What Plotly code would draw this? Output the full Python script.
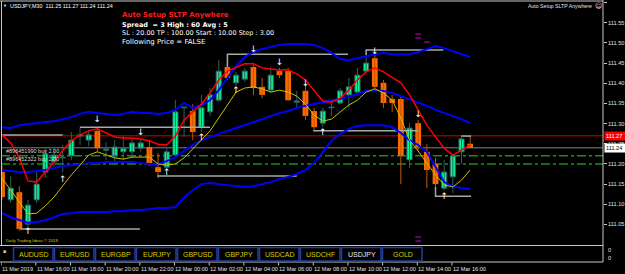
import plotly.graph_objects as go

# ---------------- data ----------------
symbol = "USDJPY,M30"
open_ = [111.180, 111.111, 111.130, 111.051, 111.111, 111.180, 111.205, 111.215, 111.220, 111.269,
         111.259, 111.282, 111.234, 111.220, 111.230, 111.230, 111.239, 111.242, 111.192, 111.192,
         111.222, 111.339, 111.331, 111.291, 111.329, 111.358, 111.440, 111.401, 111.410, 111.440,
         111.391, 111.383, 111.430, 111.430, 111.353, 111.381, 111.331, 111.301, 111.339, 111.351,
         111.371, 111.378, 111.430, 111.462, 111.401, 111.361, 111.361, 111.210, 111.301, 111.230,
         111.200, 111.140, 111.168, 111.230, 111.250]
high_ = [111.195, 111.170, 111.145, 111.111, 111.180, 111.239, 111.239, 111.247, 111.279, 111.291,
         111.284, 111.291, 111.254, 111.259, 111.269, 111.264, 111.264, 111.259, 111.227, 111.239,
         111.358, 111.341, 111.348, 111.371, 111.388, 111.457, 111.465, 111.428, 111.438, 111.445,
         111.413, 111.440, 111.438, 111.438, 111.381, 111.396, 111.339, 111.339, 111.358, 111.388,
         111.413, 111.438, 111.475, 111.470, 111.408, 111.371, 111.368, 111.301, 111.309, 111.249,
         111.215, 111.210, 111.222, 111.272, 111.270]
low_ = [111.111, 111.103, 111.034, 111.044, 111.103, 111.165, 111.195, 111.180, 111.210, 111.247,
        111.244, 111.230, 111.210, 111.205, 111.210, 111.215, 111.230, 111.195, 111.165, 111.185,
        111.217, 111.267, 111.259, 111.279, 111.319, 111.353, 111.408, 111.393, 111.403, 111.371,
        111.363, 111.376, 111.413, 111.356, 111.341, 111.309, 111.282, 111.291, 111.319, 111.348,
        111.339, 111.373, 111.428, 111.383, 111.339, 111.329, 111.150, 111.190, 111.234, 111.140,
        111.120, 111.135, 111.128, 111.200, 111.240]
close_ = [111.118, 111.140, 111.039, 111.098, 111.150, 111.225, 111.222, 111.217, 111.259, 111.272,
          111.272, 111.239, 111.237, 111.242, 111.239, 111.252, 111.252, 111.202, 111.180, 111.230,
          111.329, 111.341, 111.279, 111.339, 111.371, 111.430, 111.413, 111.420, 111.430, 111.388,
          111.371, 111.420, 111.420, 111.358, 111.356, 111.319, 111.291, 111.331, 111.341, 111.381,
          111.391, 111.420, 111.450, 111.391, 111.351, 111.351, 111.220, 111.289, 111.242, 111.185,
          111.150, 111.180, 111.220, 111.262, 111.240]

bb_upper = [111.291, 111.289, 111.296, 111.299, 111.301, 111.304, 111.306, 111.311, 111.316, 111.324,
            111.329, 111.326, 111.324, 111.321, 111.324, 111.329, 111.326, 111.326, 111.324, 111.326,
            111.334, 111.351, 111.339, 111.346, 111.358, 111.383, 111.413, 111.443, 111.465, 111.477,
            111.485, 111.490, 111.495, 111.497, 111.497, 111.497, 111.495, 111.487, 111.475, 111.460,
            111.457, 111.462, 111.467, 111.472, 111.475, 111.472, 111.472, 111.472, 111.477, 111.485,
            111.492, 111.487, 111.480, 111.472, 111.465]
bb_middle = [111.185, 111.182, 111.180, 111.180, 111.182, 111.185, 111.190, 111.195, 111.197, 111.200,
             111.202, 111.202, 111.205, 111.205, 111.205, 111.205, 111.202, 111.200, 111.200, 111.207,
             111.217, 111.232, 111.247, 111.259, 111.267, 111.274, 111.282, 111.289, 111.296, 111.304,
             111.311, 111.319, 111.326, 111.331, 111.339, 111.344, 111.348, 111.353, 111.358, 111.361,
             111.366, 111.373, 111.381, 111.383, 111.381, 111.376, 111.368, 111.361, 111.353, 111.344,
             111.334, 111.326, 111.319, 111.311, 111.301]
bb_lower = [111.078, 111.068, 111.061, 111.054, 111.056, 111.061, 111.068, 111.076, 111.078, 111.081,
            111.081, 111.081, 111.081, 111.083, 111.083, 111.086, 111.086, 111.088, 111.091, 111.091,
            111.093, 111.116, 111.135, 111.150, 111.153, 111.150, 111.148, 111.145, 111.143, 111.145,
            111.150, 111.155, 111.163, 111.168, 111.175, 111.185, 111.202, 111.230, 111.257, 111.274,
            111.287, 111.294, 111.296, 111.296, 111.296, 111.291, 111.277, 111.259, 111.247, 111.230,
            111.192, 111.155, 111.145, 111.140, 111.138]
ma_red = [111.272, 111.252, 111.215, 111.158, 111.155, 111.180, 111.205, 111.234, 111.257, 111.272,
          111.282, 111.287, 111.277, 111.267, 111.264, 111.264, 111.262, 111.257, 111.249, 111.247,
          111.269, 111.309, 111.329, 111.348, 111.376, 111.408, 111.430, 111.440, 111.448, 111.448,
          111.438, 111.435, 111.433, 111.433, 111.423, 111.408, 111.383, 111.356, 111.353, 111.363,
          111.383, 111.408, 111.428, 111.438, 111.428, 111.415, 111.401, 111.371, 111.334, 111.296,
          111.267, 111.239, 111.222, 111.234, 111.247]
ma_yellow = [111.165, 111.135, 111.103, 111.076, 111.078, 111.096, 111.118, 111.145, 111.173, 111.197,
             111.222, 111.230, 111.222, 111.215, 111.212, 111.217, 111.217, 111.217, 111.200, 111.197,
             111.200, 111.215, 111.237, 111.259, 111.282, 111.314, 111.346, 111.378, 111.388, 111.391,
             111.386, 111.378, 111.383, 111.378, 111.368, 111.348, 111.321, 111.306, 111.311, 111.329,
             111.346, 111.358, 111.378, 111.386, 111.376, 111.358, 111.314, 111.259, 111.232, 111.202,
             111.173, 111.148, 111.143, 111.160, 111.185]

fractal_up_bars = [3, 7, 19, 23, 27, 37, 51]
fractal_up_price = [111.031, 111.160, 111.178, 111.264, 111.381, 111.277, 111.118]
fractal_dn_bars = [11, 16, 29, 32, 35, 43, 48]
fractal_dn_price = [111.309, 111.277, 111.482, 111.450, 111.398, 111.477, 111.321]

# (bar_from, bar_to, level price, price at start of the connector)
level_segments = [
    (-0.2, 7.0, 111.272, 111.272),
    (9.0, 24.0, 111.291, 111.291),
    (17.9, 34.0, 111.170, 111.170),
    (26.0, 39.9, 111.472, 111.440),
    (42.0, 50.9, 111.482, 111.470),
    (35.9, 48.0, 111.282, 111.282),
    (50.0, 54.1, 111.120, 111.143),
    (53.0, 54.1, 111.269, 111.269),
    (2.1, 15.9, 111.039, 111.039),
]
purple_bars = [48, 48, 49, 48, 48]
purple_price = [111.522, 111.512, 111.502, 111.019, 111.009]

ask_price = 111.27
bid_price = close_[-1]
order_ids = ["#896451990", "#896452322"]
order_types = ["buy", "buy"]
order_lots = [2.00, 2.00]
order_prices = [111.220, 111.200]

time_label_bars = [0, 4, 8, 12, 16, 20, 24, 28, 32, 36, 40, 44, 48, 52]
time_labels = ["11 Mar 2019", "11 Mar 16:00", "11 Mar 18:00", "11 Mar 20:00", "11 Mar 22:00",
               "12 Mar 00:00", "12 Mar 02:00", "12 Mar 04:00", "12 Mar 06:00", "12 Mar 08:00",
               "12 Mar 10:00", "12 Mar 12:00", "12 Mar 14:00", "12 Mar 16:00"]
price_ticks = [111.05, 111.10, 111.15, 111.20, 111.25, 111.30, 111.35, 111.40, 111.45, 111.50,
               111.55, 111.60]
buttons = ["AUDUSD", "EURUSD", "EURGBP", "EURJPY", "GBPUSD", "GBPJPY", "USDCAD", "USDCHF",
           "USDJPY", "GOLD"]
active_button = "USDJPY"
spread, spread_high, spread_avg = 3, 60, 5
sl_pts, tp_pts, start_pts, step_pts = 20.00, 100.00, 10.00, 3.00
following_price = "FALSE"
ea_name = "Auto Setup SLTP Anywhere"
copyright_txt = "Daily Trading Ideas \u00a9 2019"

# ---------------- layout constants ----------------
W, H = 625, 274
PL, PR, PT, PB = 1, 603, 1, 245
SUB_BOT = 262
BAR0_X, BAR_DX = 2.0, 8.67
REF_P, REF_Y, PX_PER = 111.60, 2.5, 403.6

n = len(open_)
x_range = [(PL - BAR0_X) / BAR_DX, (PR - BAR0_X) / BAR_DX]
y_range = [REF_P - (PB - REF_Y) / PX_PER, REF_P - (PT - REF_Y) / PX_PER]


def xp(X):
    return (X - PL) / (PR - PL)


def yp(Y):
    return (PB - Y) / (PB - PT)


BULL, BULL_EDGE = "#00FA9A", "#2F5F5A"
BEAR, BEAR_WICK = "#FF6A00", "#C05800"
FONT = "Liberation Sans"

fig = go.Figure()

# wicks
bull = [i for i in range(n) if close_[i] >= open_[i]]
bear = [i for i in range(n) if close_[i] < open_[i]]


def wick(idx):
    xs, ys = [], []
    for i in idx:
        xs += [i, i, None]
        ys += [low_[i], high_[i], None]
    return xs, ys


for idx, col in ((bull, BULL_EDGE), (bear, BEAR_WICK)):
    wx, wy = wick(idx)
    fig.add_trace(go.Scatter(x=wx, y=wy, mode="lines", line=dict(color=col, width=1),
                             hoverinfo="skip"))

# bodies
fig.add_trace(go.Bar(x=bull, base=[open_[i] for i in bull],
                     y=[max(close_[i] - open_[i], 0.0008) for i in bull], width=0.6,
                     marker=dict(color=BULL, line=dict(color=BULL_EDGE, width=1)),
                     hoverinfo="skip"))
fig.add_trace(go.Bar(x=bear, base=[close_[i] for i in bear],
                     y=[open_[i] - close_[i] for i in bear], width=0.66,
                     marker=dict(color=BEAR, line=dict(width=0)), hoverinfo="skip"))

# level segments
sx, sy = [], []
for b0, b1, lvl, pfrom in level_segments:
    sx += [b0, b0, b1, None]
    sy += [pfrom, lvl, lvl, None]
fig.add_trace(go.Scatter(x=sx, y=sy, mode="lines", line=dict(color="#A8A8A8", width=1.5),
                         hoverinfo="skip"))

xs = list(range(n))
for arr, col, w in ((bb_upper, "#0000FF", 2), (bb_middle, "#0000FF", 2), (bb_lower, "#0000FF", 2),
                    (ma_yellow, "#C8C400", 1), (ma_red, "#FF0000", 1.5)):
    fig.add_trace(go.Scatter(x=xs, y=arr, mode="lines", line=dict(color=col, width=w),
                             hoverinfo="skip"))

# fractal arrows
fig.add_trace(go.Scatter(x=fractal_up_bars, y=fractal_up_price, mode="text", text=["\u2191"] * len(fractal_up_bars),
                         textfont=dict(color="white", size=9, family="DejaVu Sans"),
                         cliponaxis=False, hoverinfo="skip"))
fig.add_trace(go.Scatter(x=fractal_dn_bars, y=fractal_dn_price, mode="text", text=["\u2193"] * len(fractal_dn_bars),
                         textfont=dict(color="white", size=9, family="DejaVu Sans"),
                         cliponaxis=False, hoverinfo="skip"))
fig.add_trace(go.Scatter(x=purple_bars, y=purple_price, mode="markers",
                         marker=dict(symbol="line-ew", size=4, line=dict(color="#8B008B", width=1.5)),
                         cliponaxis=False, hoverinfo="skip"))

shapes = []
# order lines, bid, ask
for p in order_prices:
    shapes.append(dict(type="line", xref="paper", yref="y", x0=0, x1=1, y0=p, y1=p, layer="below",
                       line=dict(color="#1E8C1E", width=1.5, dash="dashdot")))
shapes.append(dict(type="line", xref="paper", yref="y", x0=0, x1=1, y0=ask_price, y1=ask_price,
                   layer="below", line=dict(color="#8B0000", width=1.5)))
shapes.append(dict(type="line", xref="paper", yref="y", x0=0, x1=1, y0=bid_price, y1=bid_price,
                   layer="below", line=dict(color="#808080", width=1)))

FRAME = "#C8C8C8"
# frame
shapes += [
    dict(type="line", xref="paper", yref="paper", x0=xp(0), x1=xp(PR), y0=yp(1), y1=yp(1),
         line=dict(color=FRAME, width=1)),
    dict(type="line", xref="paper", yref="paper", x0=xp(1.5), x1=xp(1.5), y0=yp(1), y1=yp(PB),
         line=dict(color=FRAME, width=1)),
    dict(type="line", xref="paper", yref="paper", x0=xp(0), x1=xp(PR), y0=yp(PB + 0.5), y1=yp(PB + 0.5),
         line=dict(color=FRAME, width=1)),
    dict(type="line", xref="paper", yref="paper", x0=xp(0), x1=xp(PR), y0=yp(SUB_BOT), y1=yp(SUB_BOT),
         line=dict(color=FRAME, width=1)),
    dict(type="line", xref="paper", yref="paper", x0=xp(PR), x1=xp(PR), y0=yp(0), y1=yp(SUB_BOT),
         line=dict(color=FRAME, width=1)),
]
# time axis tick marks
for b in time_label_bars:
    shapes.append(dict(type="line", xref="x", yref="paper", x0=b - 0.1, x1=b - 0.1,
                       y0=yp(SUB_BOT + 0.5), y1=yp(SUB_BOT + 3.5), line=dict(color=FRAME, width=1)))
# buttons
for k, name in enumerate(buttons):
    x0 = 13 + 41 * k
    shapes.append(dict(type="rect", xref="paper", yref="paper", x0=xp(x0 + 0.5), x1=xp(x0 + 40),
                       y0=yp(261), y1=yp(247.5), fillcolor="black",
                       line=dict(color="#223E9A", width=1.5)))


def ann(text, X, Y, size, color, xanchor="left", family=FONT, **kw):
    return dict(text=text, xref="paper", yref="paper", x=xp(X), y=yp(Y), xanchor=xanchor,
                yanchor="middle", showarrow=False, font=dict(size=size, color=color, family=family),
                borderpad=0, **kw)


anns = []
anns.append(ann("\u25bc", 2, 6, 4, "white"))
anns.append(ann(f"{symbol}\u00a0 {open_[-1]:.2f} {high_[-1]:.2f} {low_[-1]:.2f} {close_[-1]:.2f}",
                9, 6, 5.4, "white"))
anns.append(ann(f"<b>{ea_name}</b>", 121, 15, 7, "#FF1A1A", family="DejaVu Sans"))
anns.append(ann(f"<b>Spread \u00a0= {spread} High : {spread_high} Avg : {spread_avg}</b>",
                121, 25, 6.5, "white", family="DejaVu Sans"))
anns.append(ann(f"SL : {sl_pts:.2f} TP : {tp_pts:.2f} Start : {start_pts:.2f} Step : {step_pts:.2f}",
                121, 33, 6.5, "white", family="DejaVu Sans"))
anns.append(ann(f"Following Price = {following_price}", 121, 41.5, 7, "white", family="DejaVu Sans"))
anns.append(ann(ea_name, 593, 6, 5.2, "#E0E0E0", xanchor="right"))
anns.append(ann("\u263a", 598, 6, 7, "#E0E0E0", xanchor="center", family="DejaVu Sans"))
anns.append(ann(copyright_txt, 5, 240, 4.3, "#D8D000"))
anns.append(ann("\u25aa", 4, 251, 5, "#D0D0D0", xanchor="center", family="DejaVu Sans"))
anns.append(ann("0", 607, 249.5, 5.6, "#E0E0E0"))
anns.append(ann("0", 607, 258, 5.6, "#E0E0E0"))

# order labels
for oid, ot, lot, p in zip(order_ids, order_types, order_lots, order_prices):
    anns.append(dict(text=f"{oid} {ot} {lot:.2f}", xref="paper", yref="y", x=xp(5), y=p,
                     xanchor="left", yanchor="bottom", yshift=1, showarrow=False, borderpad=0,
                     font=dict(size=5.5, color="#D8D8D8", family=FONT)))

# price boxes on the right scale
for p, bg, fg in ((ask_price, "#FF0000", "white"), (bid_price, "white", "black")):
    anns.append(dict(text=f"{p:.2f}", xref="paper", yref="y", x=xp(604), y=p, xanchor="left",
                     yanchor="middle", showarrow=False, bgcolor=bg, borderpad=1, width=18,
                     align="left", font=dict(size=5.6, color=fg, family=FONT)))

# buttons text
for k, name in enumerate(buttons):
    x0 = 13 + 41 * k
    col = "#E8E8E8" if name == active_button else "#D8CC00"
    anns.append(ann(name, x0 + 20.5, 254.5, 7, col, xanchor="center"))

# time labels
for b, t in zip(time_label_bars, time_labels):
    anns.append(dict(text=t, xref="x", yref="paper", x=b, y=yp(268.5), xanchor="left",
                     yanchor="middle", showarrow=False, borderpad=0, xshift=-1,
                     font=dict(size=5.6, color="#E0E0E0", family=FONT)))

fig.update_layout(
    template="none",
    width=W, height=H,
    margin=dict(l=PL, r=W - PR, t=PT, b=H - PB, pad=0),
    paper_bgcolor="black", plot_bgcolor="black",
    showlegend=False, hovermode=False, barmode="overlay",
    font=dict(family=FONT, color="white"),
    xaxis=dict(range=x_range, showgrid=False, zeroline=False, showticklabels=False,
               showline=False, ticks="", automargin=False, fixedrange=True),
    yaxis=dict(range=y_range, side="right", showgrid=False, zeroline=False, showline=False,
               tickmode="array", tickvals=price_ticks, tickformat=".2f",
               ticks="outside", ticklen=3, tickwidth=1, tickcolor=FRAME,
               tickfont=dict(size=5.6, color="#E0E0E0", family=FONT), automargin=False,
               fixedrange=True),
    shapes=shapes,
    annotations=anns,
)

fig.write_html("out.html")
